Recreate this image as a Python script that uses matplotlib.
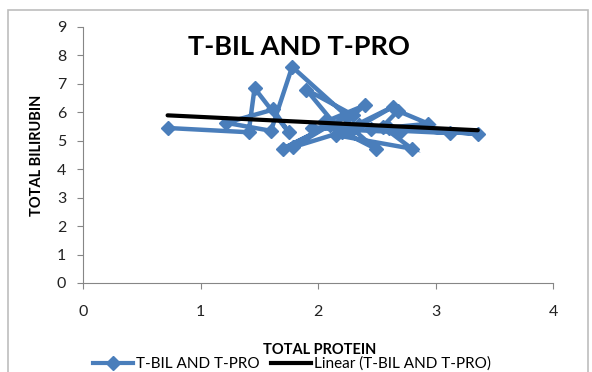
import numpy as np
from matplotlib import pyplot as plt
from matplotlib.lines import Line2D
from matplotlib.patches import Rectangle

plt.rcParams['font.family'] = ['Lato', 'DejaVu Sans']

TITLE = 'T-BIL AND T-PRO'
SERIES = 'T-BIL AND T-PRO'
TREND = 'Linear (T-BIL AND T-PRO)'
X_LABEL = 'TOTAL PROTEIN'
Y_LABEL = 'TOTAL BILIRUBIN'

# total protein (x) and total bilirubin (y), in data order
t_pro = [0.72, 1.41, 1.46, 1.75, 1.62, 1.22, 1.60, 1.78, 2.25, 1.70,
         2.10, 1.79, 2.20, 1.90, 2.30, 2.40, 2.05, 2.49, 2.30, 2.64,
         2.15, 2.80, 2.55, 2.68, 2.94, 2.45, 3.12, 2.60, 3.36, 2.35,
         1.95, 2.70]
t_bil = [5.45, 5.30, 6.85, 5.30, 6.10, 5.63, 5.35, 7.60, 5.85, 4.72,
         5.55, 4.78, 5.30, 6.80, 5.90, 6.25, 5.65, 4.72, 5.40, 6.20,
         5.20, 4.72, 5.50, 6.05, 5.60, 5.40, 5.27, 5.45, 5.24, 5.55,
         5.45, 5.30]

x_ticks = [0, 1, 2, 3, 4]
y_ticks = [0, 1, 2, 3, 4, 5, 6, 7, 8, 9]

BLUE = '#4a7ebb'

fig = plt.figure(figsize=(5.92, 3.72), dpi=100)
ax = fig.add_axes([83 / 592, 1 - 283 / 372, 470 / 592, 256 / 372])

ax.plot(t_pro, t_bil, color=BLUE, lw=3.2, marker='D', ms=7.5,
        solid_joinstyle='miter', label=SERIES)

slope, intercept = np.polyfit(t_pro, t_bil, 1)
xs = np.array([min(t_pro), max(t_pro)])
ax.plot(xs, slope * xs + intercept, color='black', lw=3,
        solid_capstyle='round', label=TREND)

ax.set_xlim(0, 4)
ax.set_ylim(0, 9)
ax.set_xticks(x_ticks)
ax.set_yticks(y_ticks)
for side in ['top', 'right']:
    ax.spines[side].set_visible(False)
for side in ['left', 'bottom']:
    ax.spines[side].set_color('#868686')
    ax.spines[side].set_linewidth(0.8)
ax.tick_params(direction='out', length=4, color='#868686', labelsize=11.5,
               labelcolor='#222222')
ax.tick_params(axis='x', pad=12)
ax.tick_params(axis='y', pad=8)

fig.text(299 / 592, 1 - 47 / 372, TITLE, ha='center', va='center',
         fontsize=19.5, fontweight='bold')
fig.text(37 / 592, 1 - 155 / 372, Y_LABEL, ha='center', va='center',
         rotation=90, fontsize=10.5, fontweight='bold')

handles = [Line2D([], [], color=BLUE, lw=3, marker='D', ms=7.5),
           Line2D([], [], color='black', lw=3)]
fig.legend(handles, [SERIES, TREND], loc='center',
           bbox_to_anchor=(292 / 592, 1 - 364 / 372), ncol=2, frameon=False,
           fontsize=11, handlelength=2.6, columnspacing=0.8,
           handletextpad=0.2)
fig.text(320 / 592, 1 - 350 / 372, X_LABEL, ha='center', va='center',
         fontsize=10.5, fontweight='bold')

fig.patches.append(Rectangle((8 / 592, -0.1), 580 / 592, 1.1 - 10 / 372,
                             transform=fig.transFigure, fill=False,
                             edgecolor='#bdbdbd', lw=1.2))

fig.savefig('out.png', dpi=100)
